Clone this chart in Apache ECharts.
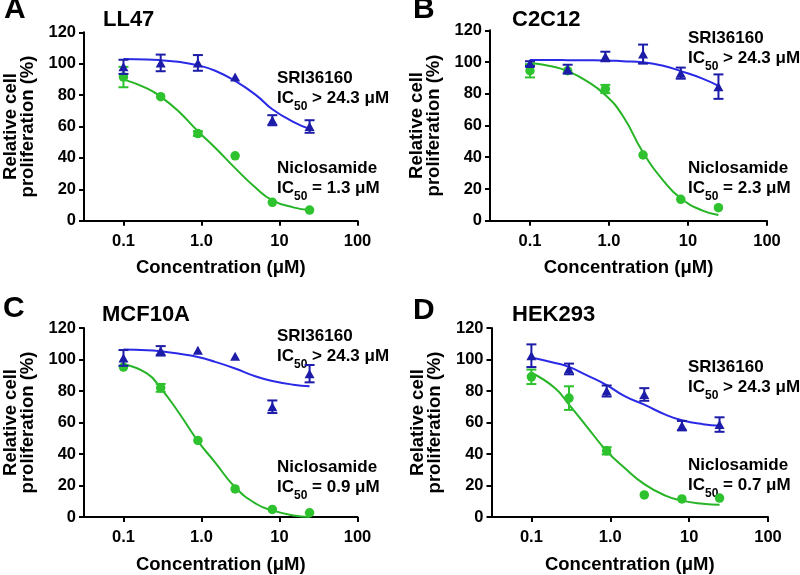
<!DOCTYPE html>
<html><head><meta charset="utf-8">
<script src="https://cdn.jsdelivr.net/npm/echarts@6/dist/echarts.min.js"></script>
<style>html,body{margin:0;padding:0;background:#fff}#c{width:800px;height:575px}</style>
</head><body><div id="c"></div>
<script>
// ---------- DATA ----------
const conc = [0.1, 0.3, 0.9, 2.7, 8.1, 24.3];
const fitX = [0.1, 0.2, 0.3, 0.5, 0.9, 1.5, 2.7, 5, 8.1, 15, 24.3];
const xTickVals = [0.1, 1, 10, 100];
const xTickLabels = ['0.1', '1.0', '10', '100'];
const yTickMax = 120;

const panelLetters = ['A', 'B', 'C', 'D'];
const cellLines = ['LL47', 'C2C12', 'MCF10A', 'HEK293'];
const ic50Nic = ['1.3', '2.3', '0.9', '0.7'];
const ic50Sri = '24.3';

// Panel A (LL47)
const sriA = [98, 100.5, 100.5, 91.5, 64, 60];
const sriAErr = [4.5, 5.3, 5, 0, 3.2, 4];
const nicA = [91.5, 79, 55.5, 41.3, 11.7, 6.8];
const nicAErr = [6.5, 0, 1.5, 0, 0, 0];
const sriAFit = [103, 102.7, 102.2, 101.2, 99, 95.5, 89, 80, 71, 63, 58.5];
const nicAFit = [90, 84.3, 79, 70, 57, 46.5, 33.5, 20.8, 13, 8.5, 6.8];

// Panel B (C2C12)
const sriB = [99, 95.5, 103.5, 105, 93, 84.5];
const sriBErr = [1.5, 2.8, 3, 6, 3.5, 7.7];
const nicB = [94.5, 94.5, 83, 41.4, 13.5, 8.2];
const nicBErr = [4.2, 0, 2.6, 0, 0, 0];
const sriBFit = [101.3, 101.3, 101.2, 101.1, 101, 100.5, 99.8, 97.5, 94.3, 89.7, 85];
const nicBFit = [99.6, 97, 94.3, 88.6, 79.2, 66, 43, 24.6, 14.1, 6.5, 3.6];

// Panel C (MCF10A)
const sriC = [101, 105.5, 105.9, 102, 70, 91];
const sriCErr = [5, 3, 0, 0, 4, 5.5];
const nicC = [95.2, 82, 48.6, 17.8, 4.8, 2.7];
const nicCErr = [0, 2.5, 0, 0, 0, 0];
const sriCFit = [106.3, 105.9, 105.2, 103.8, 101.6, 98.5, 94.3, 89.2, 86.4, 84, 83];
const nicCFit = [97, 91.2, 81.8, 67, 48.2, 34.6, 18.9, 8.4, 4.2, 1, 0];

// Panel D (HEK293)
const sriD = [102.4, 94, 80, 77.8, 58, 58.7];
const sriDErr = [7.2, 3.4, 3.5, 4, 3, 4.6];
const nicD = [89, 75.5, 42, 14, 11.5, 12];
const nicDErr = [4.6, 7.5, 2.3, 0, 0, 0];
const sriDFit = [101.3, 97.8, 95.3, 90.1, 83.8, 76.9, 71.3, 65, 61.4, 58.9, 58];
const nicDFit = [91.6, 81.8, 71.3, 57.6, 41.9, 31.4, 20.9, 13.6, 10.4, 8.4, 7.7];

// ---------- LAYOUT / STYLE ----------
const FONT = '"Liberation Sans", Arial, Helvetica, sans-serif';
const BLUE_PT = '#1c1ca8', BLUE_LN = '#2a2ae6';
const GREEN_PT = '#2ec22e', GREEN_LN = '#27b427';

const panels = [
  {sri: sriA, sriErr: sriAErr, nic: nicA, nicErr: nicAErr, sriFit: sriAFit, nicFit: nicAFit,
   grid: {left: 80.5, top: 32.3, width: 277, height: 188.4},
   letter: [4, -5], title: [103, 9], sriTxt: [277, 70], nicTxt: [277, 160]},
  {sri: sriB, sriErr: sriBErr, nic: nicB, nicErr: nicBErr, sriFit: sriBFit, nicFit: nicBFit,
   grid: {left: 490, top: 30.3, width: 277, height: 190.4},
   letter: [413, -5], title: [512, 9], sriTxt: [688, 30], nicTxt: [688, 160]},
  {sri: sriC, sriErr: sriCErr, nic: nicC, nicErr: nicCErr, sriFit: sriCFit, nicFit: nicCFit,
   grid: {left: 80.5, top: 328, width: 277, height: 190.3},
   letter: [3, 294], title: [102, 304], sriTxt: [277, 328], nicTxt: [277, 459]},
  {sri: sriD, sriErr: sriDErr, nic: nicD, nicErr: nicDErr, sriFit: sriDFit, nicFit: nicDFit,
   grid: {left: 491.5, top: 328, width: 276.5, height: 190.3},
   letter: [413, 296], title: [512, 304], sriTxt: [688, 359], nicTxt: [688, 457]}
];

function errRender(color) {
  return function (params, api) {
    const x = api.value(0), m = api.value(1), e = api.value(2);
    if (!e) return null;
    const t = api.coord([x, m + e]), b = api.coord([x, m - e]);
    const hw = 5;
    const style = {stroke: color, lineWidth: 2};
    return {type: 'group', children: [
      {type: 'line', shape: {x1: t[0], y1: t[1], x2: b[0], y2: b[1]}, style: style},
      {type: 'line', shape: {x1: t[0] - hw, y1: t[1], x2: t[0] + hw, y2: t[1]}, style: style},
      {type: 'line', shape: {x1: b[0] - hw, y1: b[1], x2: b[0] + hw, y2: b[1]}, style: style}
    ]};
  };
}

function xLabel(v) {
  let best = 0, bd = Infinity;
  xTickVals.forEach((t, i) => { const d = Math.abs(Math.log10(v) - Math.log10(t)); if (d < bd) { bd = d; best = i; } });
  return xTickLabels[best];
}

const grids = [], xAxes = [], yAxes = [], series = [], graphics = [];
const boldTxt = {fontFamily: FONT, fontWeight: 'bold', color: '#000'};
const richAnn = {
  b: {fontFamily: FONT, fontWeight: 'bold', fontSize: 17, lineHeight: 20, verticalAlign: 'top', fill: '#000', color: '#000'},
  s: {fontFamily: FONT, fontWeight: 'bold', fontSize: 12, lineHeight: 22.5, verticalAlign: 'bottom', fill: '#000', color: '#000'}
};

panels.forEach((p, i) => {
  grids.push(Object.assign({containLabel: false}, p.grid));
  xAxes.push({
    type: 'log', logBase: 10, gridIndex: i, min: 0.0312, max: 100,
    axisLine: {show: true, lineStyle: {color: '#000', width: 2}},
    axisTick: {show: true, length: 5, lineStyle: {color: '#000', width: 2}, customValues: xTickVals},
    minorTick: {show: false},
    axisLabel: Object.assign({fontSize: 16.5, margin: 12, customValues: xTickVals, formatter: xLabel}, boldTxt),
    splitLine: {show: false},
    name: 'Concentration (μM)', nameLocation: 'middle', nameGap: 38,
    nameTextStyle: Object.assign({fontSize: 18.5}, boldTxt)
  });
  yAxes.push({
    type: 'value', gridIndex: i, min: 0, max: yTickMax, interval: 20,
    axisLine: {show: true, lineStyle: {color: '#000', width: 2}},
    axisTick: {show: true, length: 5, lineStyle: {color: '#000', width: 2}},
    axisLabel: Object.assign({fontSize: 16.5, margin: 8}, boldTxt),
    splitLine: {show: false},
    name: 'Relative cell\nproliferation (%)', nameLocation: 'middle', nameGap: 48, nameRotate: 90,
    nameTextStyle: Object.assign({fontSize: 18.5, lineHeight: 17}, boldTxt)
  });
  series.push({
    type: 'line', xAxisIndex: i, yAxisIndex: i, smooth: true, symbol: 'none', z: 2,
    lineStyle: {color: GREEN_LN, width: 2}, data: fitX.map((x, j) => [x, p.nicFit[j]])
  });
  series.push({
    type: 'line', xAxisIndex: i, yAxisIndex: i, smooth: true, symbol: 'none', z: 2,
    lineStyle: {color: BLUE_LN, width: 2}, data: fitX.map((x, j) => [x, p.sriFit[j]])
  });
  series.push({
    type: 'custom', xAxisIndex: i, yAxisIndex: i, z: 3, renderItem: errRender(GREEN_PT),
    encode: {x: 0, y: 1}, data: conc.map((x, j) => [x, p.nic[j], p.nicErr[j]])
  });
  series.push({
    type: 'scatter', xAxisIndex: i, yAxisIndex: i, z: 4, symbol: 'circle', symbolSize: 9.5,
    itemStyle: {color: GREEN_PT, opacity: 1}, data: conc.map((x, j) => [x, p.nic[j]])
  });
  series.push({
    type: 'custom', xAxisIndex: i, yAxisIndex: i, z: 5, renderItem: errRender(BLUE_PT),
    encode: {x: 0, y: 1}, data: conc.map((x, j) => [x, p.sri[j], p.sriErr[j]])
  });
  series.push({
    type: 'scatter', xAxisIndex: i, yAxisIndex: i, z: 6, symbol: 'triangle', symbolSize: [10, 9],
    itemStyle: {color: BLUE_PT, opacity: 1}, data: conc.map((x, j) => [x, p.sri[j]])
  });
  graphics.push({type: 'text', x: p.letter[0], y: p.letter[1], style: {
    text: panelLetters[i], font: 'bold 30px ' + FONT, fill: '#000', verticalAlign: 'top'}});
  graphics.push({type: 'text', x: p.title[0], y: p.title[1], style: {
    text: cellLines[i], font: 'bold 22px ' + FONT, fill: '#000', verticalAlign: 'top'}});
  graphics.push({type: 'text', x: p.sriTxt[0], y: p.sriTxt[1], style: {
    text: '{b|SRI36160}\n{b|IC}{s|50}{b| > ' + ic50Sri + ' μM}', rich: richAnn, verticalAlign: 'top', fill: '#000'}});
  graphics.push({type: 'text', x: p.nicTxt[0], y: p.nicTxt[1], style: {
    text: '{b|Niclosamide}\n{b|IC}{s|50}{b| = ' + ic50Nic[i] + ' μM}', rich: richAnn, verticalAlign: 'top', fill: '#000'}});
});

const chart = echarts.init(document.getElementById('c'), null, {renderer: 'canvas'});
chart.setOption({
  animation: false,
  backgroundColor: '#fff',
  grid: grids, xAxis: xAxes, yAxis: yAxes, series: series, graphic: graphics
});
</script></body></html>
